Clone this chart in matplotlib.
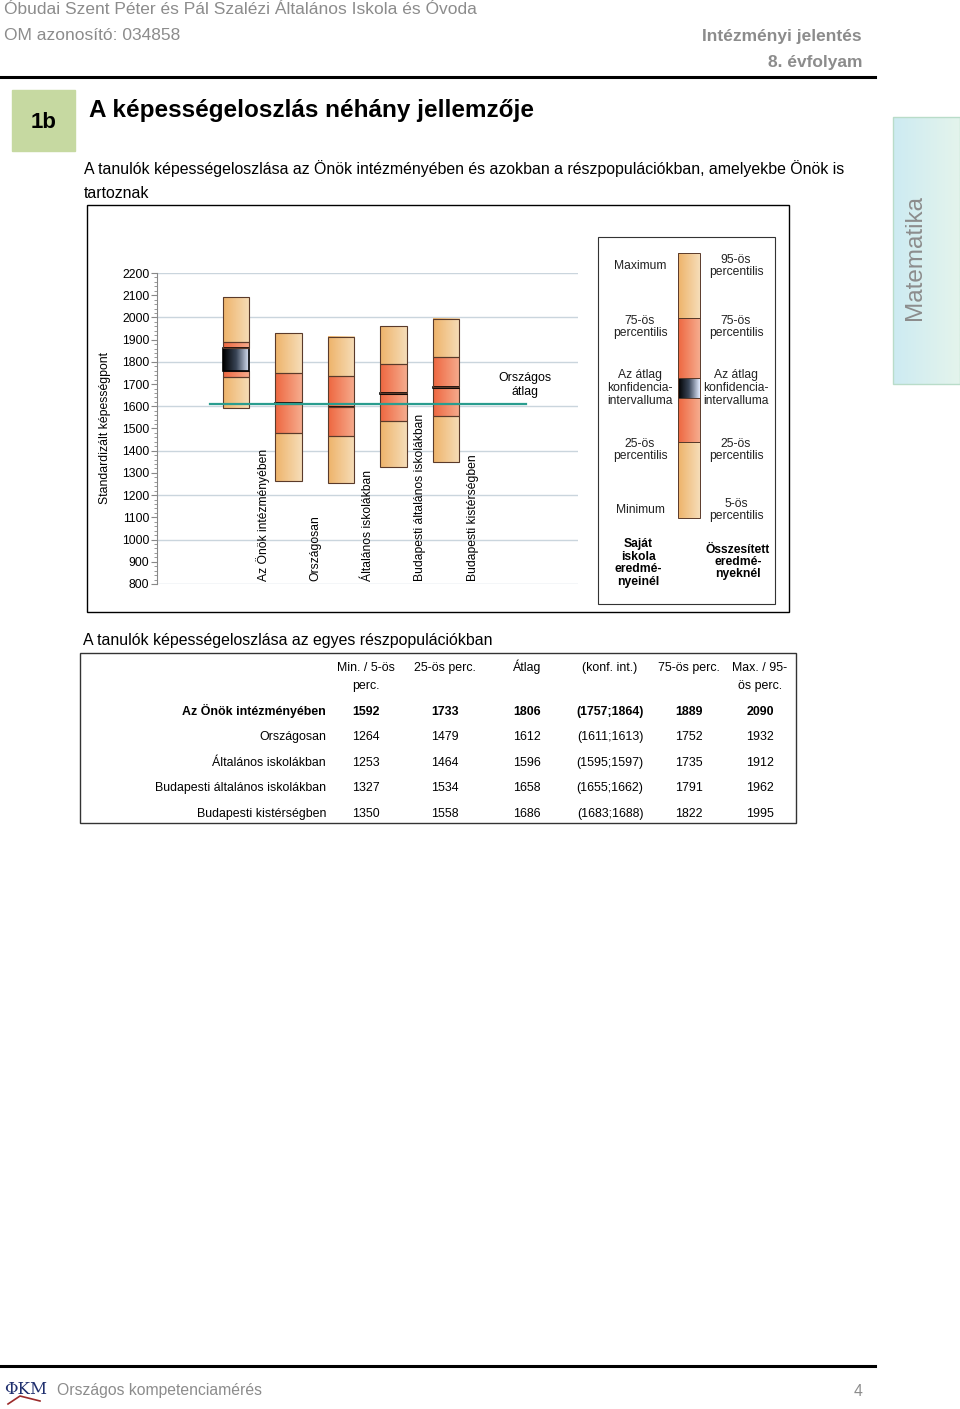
import numpy as np
import matplotlib
matplotlib.use("Agg")
import matplotlib.pyplot as plt
from matplotlib.colors import LinearSegmentedColormap
from matplotlib.patches import Rectangle
from matplotlib.ticker import MultipleLocator

plt.rcParams['font.family'] = ['Liberation Sans', 'DejaVu Sans']

W, H = 960, 1409

# adatok
groups = ["Az Önök intézményében", "Országosan", "Általános iskolákban",
          "Budapesti általános iskolákban", "Budapesti kistérségben"]
lows = [1592, 1264, 1253, 1327, 1350]
p25 = [1733, 1479, 1464, 1534, 1558]
means = [1806, 1612, 1596, 1658, 1686]
ci_lo = [1757, 1611, 1595, 1655, 1683]
ci_hi = [1864, 1613, 1597, 1662, 1688]
p75 = [1889, 1752, 1735, 1791, 1822]
highs = [2090, 1932, 1912, 1962, 1995]
national_avg = means[1]

col_heads = [("Min. / 5-ös", "perc."), ("25-ös perc.", ""), ("Átlag", ""),
             ("(konf. int.)", ""), ("75-ös perc.", ""), ("Max. / 95-", "ös perc.")]

cm_light = LinearSegmentedColormap.from_list("light", ["#EEB36A", "#F6DDB8"])
cm_red = LinearSegmentedColormap.from_list("red", ["#EE6740", "#F6AC8E"])
cm_ci = LinearSegmentedColormap.from_list("ci", ["#000000", "#3A4658", "#E2ECFF"])
cm_tab = LinearSegmentedColormap.from_list("tab", ["#CDEBF2", "#E4F4EC"])
grad = np.linspace(0, 1, 64).reshape(1, -1)
GRAY = "#8C8C8C"
EDGE = "#5A3A2A"


def px_axes(x0, y0, x1, y1):
    return fig.add_axes([x0 / W, 1 - y1 / H, (x1 - x0) / W, (y1 - y0) / H])


def band(ax, x0, x1, y0, y1, cmap, edge=EDGE, lw=0.8):
    ax.imshow(grad, extent=[x0, x1, y0, y1], cmap=cmap, aspect='auto',
              interpolation='bicubic', zorder=2)
    ax.add_patch(Rectangle((x0, min(y0, y1)), x1 - x0, abs(y1 - y0), fill=False,
                           edgecolor=edge, lw=lw, zorder=3))


fig = plt.figure(figsize=(W / 100, H / 100), dpi=100)

# ---- oldal (pixel koordináták) ----
pg = px_axes(0, 0, W, H)
pg.set_xlim(0, W)
pg.set_ylim(H, 0)
pg.axis('off')

pg.text(4, 10, "Óbudai Szent Péter és Pál Szalézi Általános Iskola és Óvoda",
        fontsize=12.5, color=GRAY, va='center')
pg.text(4, 36, "OM azonosító: 034858", fontsize=12.5, color=GRAY, va='center')
pg.text(862, 36, "Intézményi jelentés", fontsize=12.5, color=GRAY,
        fontweight='bold', ha='right', va='center')
pg.text(862, 62, "8. évfolyam", fontsize=12.5, color=GRAY,
        fontweight='bold', ha='right', va='center')
pg.plot([0, 875], [77, 77], color='black', lw=2.2)

pg.add_patch(Rectangle((12, 90), 63, 61, color="#C6D9A1"))
pg.text(44, 122, "1b", fontsize=16, fontweight='bold', ha='center', va='center')
pg.text(89, 111, "A képességeloszlás néhány jellemzője", fontsize=17.5,
        fontweight='bold', va='center')
pg.text(84, 169, "A tanulók képességeloszlása az Önök intézményében és azokban "
        "a részpopulációkban, amelyekbe Önök is", fontsize=11.4, va='center')
pg.text(84, 193, "tartoznak", fontsize=11.4, va='center')

# Matematika fül
pg.imshow(grad, extent=[893, 960, 384, 117], cmap=cm_tab, aspect='auto', zorder=1)
pg.add_patch(Rectangle((893, 117), 67, 267, fill=False, edgecolor="#B9DCC9", lw=1))
pg.text(915, 257, "Matematika", fontsize=17.5, color=GRAY, rotation=90,
        ha='center', va='center')

# diagram keret
pg.add_patch(Rectangle((87, 205), 702, 407, fill=False, edgecolor='black', lw=1))
pg.text(105, 428, "Standardizált képességpont", fontsize=8.8, rotation=90,
        ha='center', va='center')

# jelmagyarázat
pg.add_patch(Rectangle((598, 237), 177, 367, fill=False, edgecolor='#333333', lw=0.8))
for y0, y1, cm in [(253, 318, cm_light), (318, 378, cm_red), (378, 398, cm_ci),
                   (398, 442, cm_red), (442, 518, cm_light)]:
    band(pg, 678, 700, y1, y0, cm, lw=0.7)
left_lbl = [(266, "Maximum"), (327, "75-ös\npercentilis"),
            (388, "Az átlag\nkonfidencia-\nintervalluma"),
            (450, "25-ös\npercentilis"), (510, "Minimum")]
right_lbl = [(266, "95-ös\npercentilis"), (327, "75-ös\npercentilis"),
             (388, "Az átlag\nkonfidencia-\nintervalluma"),
             (450, "25-ös\npercentilis"), (510, "5-ös\npercentilis")]
for y, s in left_lbl:
    pg.text(640, y, s, fontsize=8.7, ha='center', va='center', color='#222222',
            linespacing=1.1)
for y, s in right_lbl:
    pg.text(736, y, s, fontsize=8.7, ha='center', va='center', color='#222222',
            linespacing=1.1)
pg.text(638, 563, "Saját\niskola\neredmé-\nnyeinél", fontsize=8.7, fontweight='bold',
        ha='center', va='center', linespacing=1.05)
pg.text(738, 562, "Összesített\neredmé-\nnyeknél", fontsize=8.7, fontweight='bold',
        ha='center', va='center', linespacing=1.05)

# táblázat
pg.text(83, 640, "A tanulók képességeloszlása az egyes részpopulációkban",
        fontsize=11.4, va='center')
pg.add_patch(Rectangle((80, 653), 716, 170, fill=False, edgecolor='#333333', lw=1))
col_x = [366, 445, 527, 610, 689, 760]
for x, (s1, s2) in zip(col_x, col_heads):
    pg.text(x, 671, s1, fontsize=8.9, ha='center', va='baseline')
    pg.text(x, 689, s2, fontsize=8.9, ha='center', va='baseline')
row_y = [711, 736, 762, 787, 813]
for i, (g, y) in enumerate(zip(groups, row_y)):
    fw = 'bold' if i == 0 else 'normal'
    vals = [str(lows[i]), str(p25[i]), str(means[i]),
            f"({ci_lo[i]};{ci_hi[i]})", str(p75[i]), str(highs[i])]
    pg.text(326, y + 4, g, fontsize=8.9, ha='right', va='baseline', fontweight=fw)
    for x, v in zip(col_x, vals):
        pg.text(x, y + 4, v, fontsize=8.9, ha='center', va='baseline', fontweight=fw)

# lábléc
pg.plot([0, 875], [1366, 1366], color='black', lw=2.2)
pg.text(26, 1389, "ΦKM", fontsize=12, color="#1F2F6E", family='DejaVu Serif',
        ha='center', va='center')
pg.plot([8, 20, 40], [1404, 1396, 1401], color="#9B2A2A", lw=1.2)
pg.text(57, 1391, "Országos kompetenciamérés", fontsize=11.3, color=GRAY, va='center')
pg.text(862, 1391, "4", fontsize=11.3, color=GRAY, ha='right', va='center')
pg.set_xlim(0, W)
pg.set_ylim(H, 0)

# ---- diagram ----
ax = px_axes(157, 273, 578, 584)
ax.patch.set_alpha(0)
x = np.arange(len(groups))
bw = 0.5
for i in x:
    segs = [(lows[i], p25[i], cm_light), (p25[i], ci_lo[i], cm_red),
            (ci_lo[i], ci_hi[i], cm_ci), (ci_hi[i], p75[i], cm_red),
            (p75[i], highs[i], cm_light)]
    for y0, y1, cm in segs:
        edge = 'black' if cm is cm_ci else EDGE
        band(ax, i - bw / 2, i + bw / 2, y0, y1, cm, edge=edge,
             lw=1.2 if cm is cm_ci else 0.8)
    ax.text(i + 0.51, 815, groups[i], rotation=90, fontsize=8.7,
            ha='center', va='bottom')

ax.plot([-0.5, 5.52], [national_avg, national_avg], color="#2A9D8F", lw=1.6, zorder=5)
ax.text(5.5, 1696, "Országos\nátlag", fontsize=8.9, ha='center', va='center')

for g in range(800, 2201, 200):
    ax.axhline(g, color="#CAD5DD", lw=1, zorder=0)
ax.set_xlim(-1.505, 6.514)
ax.set_ylim(800, 2200)
ax.set_yticks(range(800, 2201, 100))
ax.yaxis.set_minor_locator(MultipleLocator(20))
ax.set_xticks([])
for s in ['top', 'right', 'bottom']:
    ax.spines[s].set_visible(False)
ax.spines['left'].set_color('#888888')
ax.tick_params(axis='y', which='major', length=4, color='#888888', labelsize=8.8,
               pad=1.5)
ax.tick_params(axis='y', which='minor', length=2, color='#888888')

fig.savefig("out.png", dpi=100)
